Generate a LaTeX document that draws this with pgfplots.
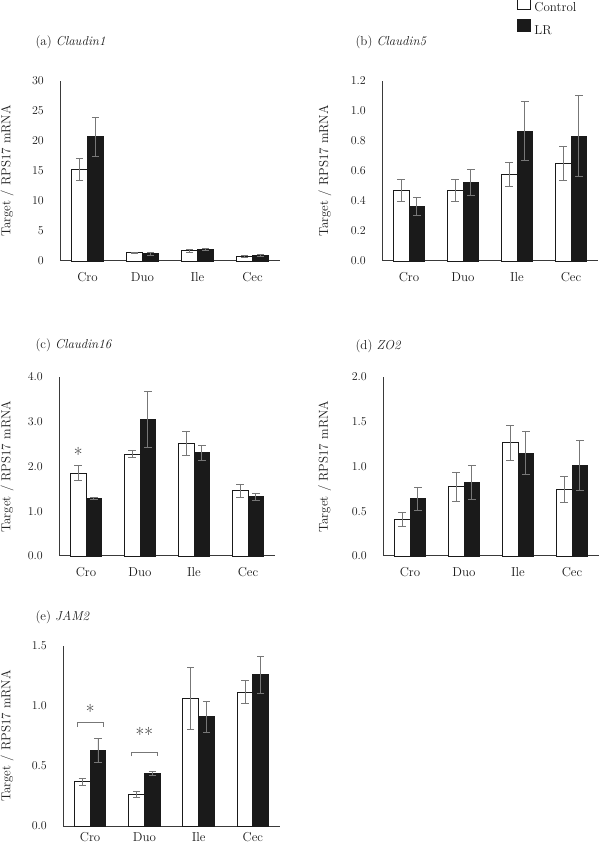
\documentclass[border=0pt]{standalone}
\usepackage{pgfplots}
\pgfplotsset{compat=1.18}
\definecolor{axgray}{HTML}{3A3A3A}
\definecolor{errgray}{HTML}{777777}
\definecolor{barblack}{HTML}{1A1A1A}
\tikzset{sigstar/.style={anchor=base, yshift=-10bp, font=\fontsize{19}{21}\selectfont, text=black!85}}
\pgfplotsset{
  panel/.style={
    scale only axis, anchor=south west, clip=false,
    axis lines=left, axis line style={-, draw=axgray, line width=1bp},
    xmin=-0.5, xmax=3.5, ymin=0, enlargelimits=false,
    xtick={0,1,2,3}, xticklabels={Cro,Duo,Ile,Cec},
    major tick length=0pt,
    tick label style={font=\fontsize{13}{15}\selectfont, text=black!90},
    xticklabel style={inner sep=0pt, yshift=-11bp},
    yticklabel style={inner sep=0pt, xshift=-16bp},
    ylabel={Target / RPS17 mRNA},
    ylabel style={font=\fontsize{13}{15}\selectfont, text=black!90, anchor=center},
  },
  ctrl/.style={ybar, bar width=0.29, bar shift=0pt, fill=white, draw=barblack, line width=0.9bp,
    legend image code/.code={\draw[fill=white, draw=barblack, line width=0.9bp] (0bp,-1.5bp) rectangle (12.6bp,11bp);},
    error bars/y dir=both, error bars/y explicit,
    error bars/error bar style={errgray, line width=0.9bp},
    error bars/error mark options={rotate=90, errgray, mark size=3.7bp, line width=0.9bp}},
  lr/.style={ybar, bar width=0.29, bar shift=0pt, fill=barblack, draw=barblack, line width=0.9bp,
    legend image code/.code={\draw[fill=barblack, draw=barblack, line width=0.9bp] (0bp,-1.5bp) rectangle (12.6bp,11bp);},
    error bars/y dir=both, error bars/y explicit,
    error bars/error bar style={errgray, line width=0.9bp},
    error bars/error mark options={rotate=90, errgray, mark size=3.7bp, line width=0.9bp}},
}
\begin{document}
\begin{tikzpicture}
\path[use as bounding box] (0,0) rectangle (600bp,843bp);

% (a) Claudin1
\begin{axis}[panel, at={(60bp,582bp)}, width=220bp, height=180bp, ymax=30, ytick={0,5,...,30},
  ylabel style={at={(axis description cs:-0.24,0.5)}}]
\addplot[ctrl] coordinates {(-0.145,15.3) +- (0,1.8) (0.855,1.35) +- (0,0.15) (1.855,1.7) +- (0,0.2) (2.855,0.8) +- (0,0.15)};
\addplot[lr] coordinates {(0.145,20.7) +- (0,3.2) (1.145,1.2) +- (0,0.2) (2.145,1.9) +- (0,0.2) (3.145,0.9) +- (0,0.15)};
\end{axis}
\node[anchor=west, font=\fontsize{13}{15}\selectfont, text=black!90] at (32bp,801bp) {(a) \textit{Claudin1}};

% (b) Claudin5
\begin{axis}[panel, at={(382bp,582bp)}, width=216bp, height=180bp, ymax=1.2, ytick={0,0.2,...,1.2},
  yticklabel style={/pgf/number format/.cd, fixed, fixed zerofill, precision=1},
  ylabel style={at={(axis description cs:-0.264,0.5)}},
  legend style={at={(axis description cs:0.624,1.472)}, anchor=north west, draw=none, fill=none,
    inner sep=0pt, row sep=4bp, font=\fontsize{13}{15}\selectfont, text=black!90,
    /tikz/every odd column/.append style={column sep=2bp}},
  legend cell align=left]
\addplot[ctrl] coordinates {(-0.145,0.47) +- (0,0.075) (0.855,0.47) +- (0,0.075) (1.855,0.578) +- (0,0.08) (2.855,0.651) +- (0,0.112)};
\addplot[lr] coordinates {(0.145,0.362) +- (0,0.06) (1.145,0.522) +- (0,0.086) (2.145,0.864) +- (0,0.197) (3.145,0.833) +- (0,0.27)};
\legend{Control,LR}
\end{axis}
\node[anchor=west, font=\fontsize{13}{15}\selectfont, text=black!90] at (352bp,801bp) {(b) \textit{Claudin5}};

% (c) Claudin16
\begin{axis}[panel, at={(59bp,287bp)}, width=216bp, height=179bp, ymax=4, ytick={0,1,...,4},
  yticklabel style={/pgf/number format/.cd, fixed, fixed zerofill, precision=1},
  ylabel style={at={(axis description cs:-0.24,0.5)}}]
\addplot[ctrl] coordinates {(-0.145,1.85) +- (0,0.17) (0.855,2.28) +- (0,0.07) (1.855,2.51) +- (0,0.27) (2.855,1.46) +- (0,0.15)};
\addplot[lr] coordinates {(0.145,1.28) +- (0,0.02) (1.145,3.05) +- (0,0.63) (2.145,2.31) +- (0,0.17) (3.145,1.32) +- (0,0.085)};
\node[sigstar] at (axis cs:-0.145,2.33) {*};
\end{axis}
\node[anchor=west, font=\fontsize{13}{15}\selectfont, text=black!90] at (32bp,498bp) {(c) \textit{Claudin16}};

% (d) ZO2
\begin{axis}[panel, at={(383bp,287bp)}, width=216bp, height=179bp, ymax=2, ytick={0,0.5,...,2},
  yticklabel style={/pgf/number format/.cd, fixed, fixed zerofill, precision=1},
  ylabel style={at={(axis description cs:-0.27,0.5)}}]
\addplot[ctrl] coordinates {(-0.145,0.41) +- (0,0.078) (0.855,0.773) +- (0,0.163) (1.855,1.268) +- (0,0.195) (2.855,0.747) +- (0,0.145)};
\addplot[lr] coordinates {(0.145,0.64) +- (0,0.127) (1.145,0.817) +- (0,0.19) (2.145,1.148) +- (0,0.24) (3.145,1.01) +- (0,0.28)};
\end{axis}
\node[anchor=west, font=\fontsize{13}{15}\selectfont, text=black!90] at (352bp,497bp) {(d) \textit{ZO2}};

% (e) JAM2
\begin{axis}[panel, at={(63bp,17bp)}, width=217bp, height=180bp, ymax=1.5, ytick={0,0.5,...,1.5},
  yticklabel style={/pgf/number format/.cd, fixed, fixed zerofill, precision=1},
  xticklabel style={yshift=5bp},
  ylabel style={at={(axis description cs:-0.258,0.5)}}]
\addplot[ctrl] coordinates {(-0.145,0.369) +- (0,0.03) (0.855,0.261) +- (0,0.027) (1.855,1.064) +- (0,0.258) (2.855,1.117) +- (0,0.095)};
\addplot[lr] coordinates {(0.145,0.628) +- (0,0.1) (1.145,0.439) +- (0,0.015) (2.145,0.911) +- (0,0.13) (3.145,1.26) +- (0,0.155)};
\draw[errgray, line width=0.9bp] (axis cs:-0.24,0.825) -- (axis cs:-0.24,0.86) -- (axis cs:0.24,0.86) -- (axis cs:0.24,0.825);
\draw[errgray, line width=0.9bp] (axis cs:0.76,0.58) -- (axis cs:0.76,0.617) -- (axis cs:1.24,0.617) -- (axis cs:1.24,0.58);
\node[sigstar] at (axis cs:0,0.98) {*};
\node[sigstar] at (axis cs:1,0.786) {**};
\end{axis}
\node[anchor=west, font=\fontsize{13}{15}\selectfont, text=black!90] at (32bp,226bp) {(e) \textit{JAM2}};
\end{tikzpicture}
\end{document}
